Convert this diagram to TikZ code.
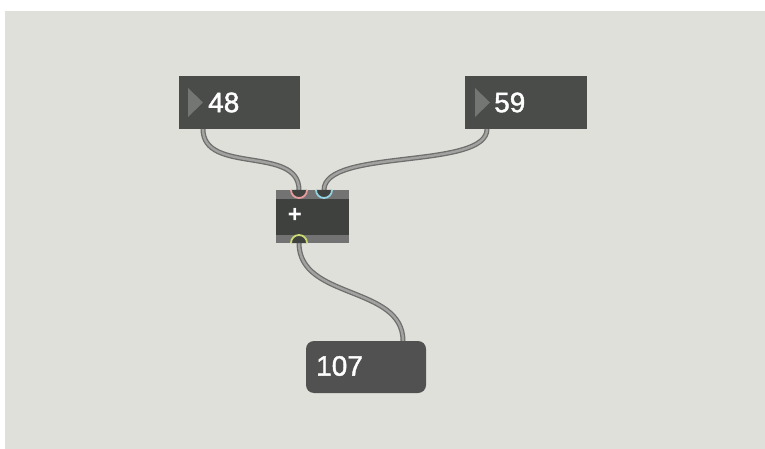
\documentclass[tikz,border=0pt]{standalone}
\usepackage{fontspec}
\setmainfont{Liberation Sans}
\newfontfamily\numfont[FakeBold=1.5]{Liberation Sans}
\definecolor{bgc}{HTML}{DFE0DA}
\definecolor{boxc}{HTML}{4A4C4A}
\definecolor{stripc}{HTML}{727372}
\definecolor{darkc}{HTML}{3F413F}
\definecolor{tric}{HTML}{747674}
\definecolor{cableout}{HTML}{6E6F6D}
\definecolor{cablein}{HTML}{A2A3A1}
\definecolor{inred}{HTML}{E89C9C}
\definecolor{inblue}{HTML}{92D2E2}
\definecolor{outgreen}{HTML}{CCDA74}
\definecolor{numc}{HTML}{505150}
\tikzset{
  numbox/.style={fill=boxc, draw=none, minimum width=121pt, minimum height=53pt, inner sep=0pt},
  objbox/.style={fill=darkc, draw=none, minimum width=73pt, minimum height=53pt, inner sep=0pt},
  msgbox/.style={fill=numc, draw=none, rounded corners=8pt, minimum width=120pt, minimum height=52pt, inner sep=0pt},
  numtext/.style={text=white, font=\numfont\fontsize{28}{30}\selectfont, anchor=west, inner sep=0pt},
  cableo/.style={draw=cableout, line width=5pt, line cap=round},
  cablei/.style={draw=cablein, line width=2.4pt, line cap=round},
  port/.style={line width=1.8pt},
}
\begin{document}
\begin{tikzpicture}[x=1pt,y=-1pt]
\useasboundingbox (0,0) rectangle (765,449);
\fill[white] (0,0) rectangle (765,449);
\fill[bgc] (5,11) rectangle (765,449);
% coordinates for cable ends
\coordinate (o48) at (203,129);
\coordinate (o59) at (487,129);
\coordinate (inL) at (299,190);
\coordinate (inR) at (324,190);
\coordinate (outP) at (299,243);
\coordinate (in107) at (403,341);
% cables
\foreach \s in {cableo,cablei}{
  \draw[\s] (o48) .. controls (203,175) and (299,145) .. (inL);
  \draw[\s] (o59) .. controls (487,170) and (324,148) .. (inR);
  \draw[\s] (outP) .. controls (299,300) and (403,285) .. (in107);
}
% number boxes
\node[numbox] (b48) at (239.5,102.5) {};
\fill[tric] (188,88) -- (203,102.5) -- (188,117) -- cycle;
\node[numtext] (t48) at (208,102.5) {48};
\node[numbox, minimum width=122pt] (b59) at (526,102.5) {};
\fill[tric] (475,88) -- (490,102.5) -- (475,117) -- cycle;
\node[numtext] (t59) at (494,102.5) {59};
% plus object
\node[objbox] (plus) at (312.5,216.5) {};
\fill[stripc] (276,190) rectangle (349,199);
\fill[stripc] (276,235) rectangle (349,243);
\node[text=white, font=\fontsize{24}{26}\selectfont\bfseries, inner sep=0pt] (tplus) at (295,215.5) {+};
% inlets / outlet
\fill[darkc] (291,190) arc[start angle=180, end angle=360, radius=8pt] -- cycle;
\draw[port, draw=inred] (291,190) arc[start angle=180, end angle=360, radius=8pt];
\fill[darkc] (316,190) arc[start angle=180, end angle=360, radius=8pt] -- cycle;
\draw[port, draw=inblue] (316,190) arc[start angle=180, end angle=360, radius=8pt];
\fill[darkc] (291,243) arc[start angle=180, end angle=0, radius=8pt] -- cycle;
\draw[port, draw=outgreen] (291,243) arc[start angle=180, end angle=0, radius=8pt];
% message/number output box
\node[msgbox] (b107) at (366,367) {};
\node[numtext] (t107) at (316,366) {107};
\end{tikzpicture}
\end{document}
